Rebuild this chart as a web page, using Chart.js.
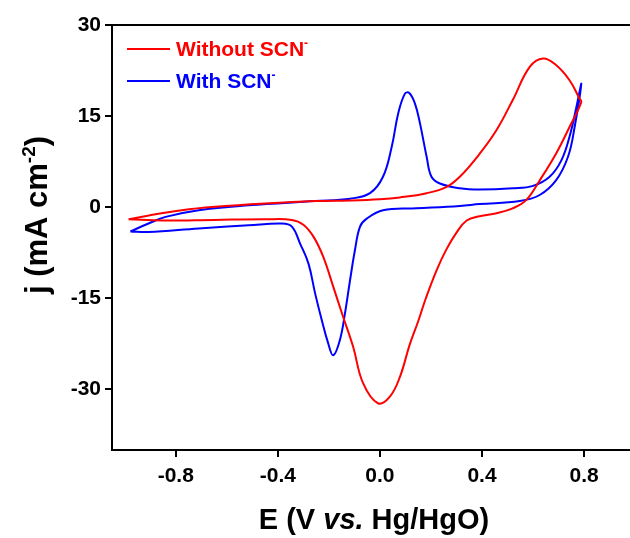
<!DOCTYPE html>
<html>
<head>
<meta charset="utf-8">
<script src="https://cdn.jsdelivr.net/npm/chart.js@4/dist/chart.umd.min.js"></script>
<style>
  html, body { margin: 0; padding: 0; background: #fff; overflow: hidden; }
  canvas { display: block; }
</style>
</head>
<body>
<canvas id="cv" width="630" height="538"></canvas>
<script>
// CV sweeps, potential E (V vs. Hg/HgO) and current density j (mA cm-2),
// each listed in sweep order (anodic from -1.0 V, then back).
const E_WITHOUT = [-0.985, -0.91, -0.776, -0.646, -0.45, -0.254, -0.117, 0.0, 0.078, 0.183, 0.26, 0.313, 0.391, 0.457,
  0.52, 0.587, 0.639, 0.69, 0.743, 0.782, 0.789,
  0.743, 0.69, 0.626, 0.574, 0.52, 0.457, 0.391, 0.34, 0.30, 0.26, 0.222, 0.18, 0.15, 0.117, 0.078, 0.039, -0.008,
  -0.066, -0.105, -0.144, -0.183, -0.222, -0.26, -0.30, -0.345, -0.45, -0.65, -0.85, -0.985];
const J_WITHOUT = [-2.0, -1.4, -0.5, 0.05, 0.6, 1.0, 1.1, 1.3, 1.6, 2.3, 3.3, 5.0, 8.8, 12.7,
  17.6, 23.1, 24.5, 23.4, 20.9, 17.9, 17.3,
  13.2, 8.8, 4.4, 1.2, -0.2, -1.0, -1.5, -2.2, -4.2, -7.0, -10.4, -15.0, -18.8, -22.6, -28.0, -31.2, -32.3,
  -29.0, -23.0, -18.1, -13.1, -8.2, -4.9, -2.9, -2.1, -2.0, -2.1, -2.2, -2.0];

const E_WITH = [-0.978, -0.907, -0.84, -0.71, -0.515, -0.254, -0.117, -0.039, 0.012, 0.046, 0.072, 0.098, 0.115,
  0.137, 0.157, 0.183, 0.202, 0.235, 0.313, 0.391, 0.52, 0.6, 0.665, 0.711, 0.743, 0.77, 0.789,
  0.763, 0.737, 0.69, 0.626, 0.548, 0.391, 0.313, 0.143, 0.012, -0.052, -0.078, -0.098, -0.117, -0.137,
  -0.157, -0.183, -0.203, -0.228, -0.254, -0.28, -0.313, -0.345, -0.385, -0.515, -0.71, -0.907, -0.978];
const J_WITH = [-4.0, -2.7, -1.6, -0.5, 0.3, 1.0, 1.4, 2.3, 5.0, 9.9, 15.5, 18.7, 18.8,
  17.1, 13.8, 8.3, 5.0, 3.9, 3.1, 2.9, 3.1, 3.5, 5.0, 7.7, 11.6, 16.5, 20.3,
  13.2, 8.3, 4.4, 2.0, 1.0, 0.5, 0.2, -0.2, -0.5, -1.9, -3.2, -7.1, -12.0, -17.5,
  -21.9, -24.4, -22.4, -18.6, -14.2, -9.3, -6.0, -3.2, -2.7, -3.0, -3.5, -4.1, -4.0];

const SERIES = ['Without SCN', 'With SCN'];
const COLORS = ['#ff0000', '#0000ff'];
const X_TICKS = [-0.8, -0.4, 0.0, 0.4, 0.8];
const Y_TICKS = [-30, -15, 0, 15, 30];

const FONT = "'Liberation Sans', Arial, sans-serif";

function pts(xs, ys) { return xs.map(function (x, i) { return { x: x, y: ys[i] }; }); }

// Text made of runs (normal / italic / superscript), drawn left to right.
function runsWidth(ctx, runs) {
  let w = 0;
  runs.forEach(function (r) { ctx.font = r.font; w += ctx.measureText(r.text).width; });
  return w;
}
function drawRuns(ctx, runs, x, y) {
  runs.forEach(function (r) {
    ctx.font = r.font;
    ctx.fillText(r.text, x, y - (r.dy || 0));
    x += ctx.measureText(r.text).width;
  });
}

const decorations = {
  id: 'decorations',
  afterDraw(chart) {
    const ctx = chart.ctx, a = chart.chartArea;
    ctx.save();
    // top frame line
    ctx.strokeStyle = '#000'; ctx.lineWidth = 2;
    ctx.beginPath(); ctx.moveTo(a.left - 1, a.top); ctx.lineTo(a.right, a.top); ctx.stroke();

    // legend in the upper left corner
    ctx.textBaseline = 'alphabetic'; ctx.textAlign = 'left';
    const legY = [49, 81];
    SERIES.forEach(function (name, i) {
      ctx.strokeStyle = COLORS[i]; ctx.lineWidth = 2;
      ctx.beginPath(); ctx.moveTo(127, legY[i]); ctx.lineTo(170, legY[i]); ctx.stroke();
      ctx.fillStyle = COLORS[i];
      drawRuns(ctx, [
        { text: name, font: 'bold 21px ' + FONT },
        { text: '-', font: 'bold 12px ' + FONT, dy: 9 },
      ], 176, legY[i] + 7);
    });

    // x axis title
    ctx.fillStyle = '#000';
    const xRuns = [
      { text: 'E (V ', font: 'bold 29px ' + FONT },
      { text: 'vs.', font: 'italic bold 29px ' + FONT },
      { text: ' Hg/HgO)', font: 'bold 29px ' + FONT },
    ];
    drawRuns(ctx, xRuns, 374 - runsWidth(ctx, xRuns) / 2, 529);

    // y axis title, rotated
    const yRuns = [
      { text: 'j (mA cm', font: 'bold 31px ' + FONT },
      { text: '-2', font: 'bold 19px ' + FONT, dy: 12 },
      { text: ')', font: 'bold 31px ' + FONT },
    ];
    ctx.translate(47, 215);
    ctx.rotate(-Math.PI / 2);
    drawRuns(ctx, yRuns, -runsWidth(ctx, yRuns) / 2, 0);
    ctx.restore();
  }
};

new Chart(document.getElementById('cv'), {
  type: 'scatter',
  data: {
    datasets: [
      { label: SERIES[0], data: pts(E_WITHOUT, J_WITHOUT), borderColor: COLORS[0] },
      { label: SERIES[1], data: pts(E_WITH, J_WITH), borderColor: COLORS[1] },
    ].map(function (d) {
      return Object.assign(d, { showLine: true, pointRadius: 0, borderWidth: 2, tension: 0.4, fill: false });
    }),
  },
  options: {
    responsive: false, animation: false, devicePixelRatio: 1,
    layout: { padding: { top: 25, right: 0, left: 0, bottom: 0 } },
    plugins: { legend: { display: false }, tooltip: { enabled: false } },
    scales: {
      x: {
        type: 'linear', min: -1.05, max: 0.98,
        afterBuildTicks: function (s) { s.ticks = X_TICKS.map(function (v) { return { value: v }; }); },
        afterFit: function (s) { s.height = 88; },
        border: { display: true, color: '#000', width: 2 },
        grid: { drawOnChartArea: false, drawTicks: true, tickLength: 7, color: '#000', lineWidth: 2 },
        ticks: { color: '#000', padding: 7, maxRotation: 0, font: { family: FONT, weight: 'bold', size: 21 },
          callback: function (v) { return v.toFixed(1); } },
      },
      y: {
        type: 'linear', min: -40, max: 30,
        afterBuildTicks: function (s) { s.ticks = Y_TICKS.map(function (v) { return { value: v }; }); },
        afterFit: function (s) { s.width = 112; },
        border: { display: true, color: '#000', width: 2 },
        grid: { drawOnChartArea: false, drawTicks: true, tickLength: 7, color: '#000', lineWidth: 2 },
        ticks: { color: '#000', padding: 4, font: { family: FONT, weight: 'bold', size: 21 },
          callback: function (v) { return String(v); } },
      },
    },
  },
  plugins: [decorations],
});
</script>
</body>
</html>
